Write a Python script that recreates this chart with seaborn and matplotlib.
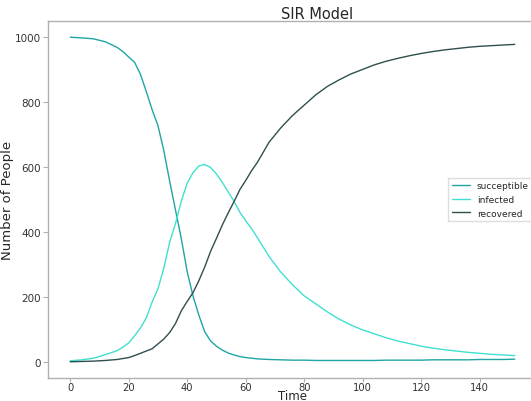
import matplotlib
matplotlib.use("Agg")
import matplotlib.pyplot as plt
import pandas as pd
import seaborn as sns

# values
time = [0, 4, 8, 12, 16, 18, 20, 22, 24, 26, 28, 30, 32, 34, 36, 38, 40, 42, 44,
        46, 48, 50, 52, 54, 56, 58, 60, 62, 64, 68, 72, 76, 80, 84, 88, 92, 96,
        100, 104, 108, 112, 116, 120, 124, 128, 132, 136, 140, 144, 148, 152]
succeptible = [999, 997, 994, 985, 968, 955, 938, 922, 885, 832, 776, 727, 650,
               556, 467, 378, 277, 202, 143, 92, 64, 48, 36, 27, 21, 16, 13, 11,
               9, 7, 6, 5, 5, 4, 4, 4, 4, 4, 4, 5, 5, 5, 5, 6, 6, 6, 6, 7, 7, 7, 8]
infected = [3, 6, 11, 22, 34, 45, 58, 80, 104, 135, 184, 225, 288, 368, 426, 495,
            550, 582, 603, 607, 598, 578, 552, 523, 494, 460, 434, 410, 382, 324,
            276, 237, 203, 178, 153, 131, 113, 98, 86, 74, 64, 56, 48, 42, 37, 33,
            29, 26, 23, 21, 19]
recovered = [0, 1, 2, 4, 7, 10, 13, 19, 26, 33, 40, 55, 70, 90, 118, 157, 186,
             213, 250, 292, 340, 380, 421, 458, 493, 530, 558, 588, 614, 676, 720,
             758, 790, 822, 848, 868, 886, 900, 914, 925, 934, 942, 949, 955, 960,
             964, 968, 971, 973, 975, 977]

names = ["succeptible", "infected", "recovered"]
colors = ["#20a5a5", "turquoise", "darkslategray"]

df = pd.DataFrame({"Time": time, "succeptible": succeptible,
                   "infected": infected, "recovered": recovered})
df_long = df.melt(id_vars="Time", var_name="group", value_name="people")

sns.set_style("white")
plt.rcParams["font.family"] = ["DejaVu Sans"]

fig = plt.figure(figsize=(5.31, 4.02), dpi=100)
ax = fig.add_axes([48 / 531, 23 / 402, 489 / 531, 357 / 402])

sns.lineplot(data=df_long, x="Time", y="people", hue="group", hue_order=names,
             palette=colors, linewidth=1.0, ax=ax)

for side in ["top", "bottom", "left", "right"]:
    ax.spines[side].set_color("#b0b0b0")
    ax.spines[side].set_linewidth(1.0)
ax.tick_params(axis="both", which="both", direction="out", length=3.5, width=0.8,
               pad=1.5, color="#b0b0b0", labelsize=7.5, labelcolor="#333333",
               left=True, bottom=True)
ax.tick_params(axis="x", pad=0, length=3, labelsize=7.2)
ax.set_xticks([0, 20, 40, 60, 80, 100, 120, 140])
ax.set_yticks([0, 200, 400, 600, 800, 1000])

ax.set_title("SIR Model", fontsize=10.5, pad=1.5, x=0.55)
ax.set_xlabel("Time", fontsize=8.5, labelpad=-2.5)
ax.set_ylabel("Number of People", fontsize=9.5, labelpad=1)

handles, labels = ax.get_legend_handles_labels()
ax.legend(handles, labels, loc="center right", fontsize=6.5, frameon=True,
          edgecolor="#dddddd", fancybox=False, framealpha=1)

fig.savefig("out.png", dpi=100)
